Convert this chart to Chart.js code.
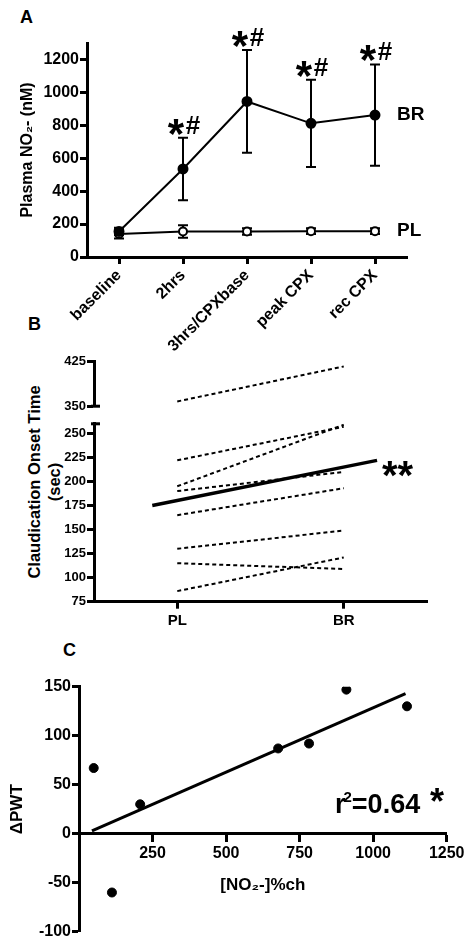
<!DOCTYPE html>
<html>
<head>
<meta charset="utf-8">
<script src="https://cdn.jsdelivr.net/npm/chart.js@4.4.0/dist/chart.umd.min.js"></script>
<style>
body { margin: 0; background: #fff; width: 474px; height: 946px; position: relative; overflow: hidden;
       font-family: 'Liberation Sans', Arial, sans-serif; }
canvas { position: absolute; left: 0; }
.letra { position: absolute; font-weight: bold; font-size: 18px; line-height: 1; }
#tituloB { position: absolute; left: -81.5px; top: 462px; width: 250px; height: 40px; line-height: 20px;
           font-size: 16.5px; font-weight: bold; text-align: center; transform: rotate(-90deg); }
</style>
</head>
<body>
<div class="letra" style="left:20px;top:8px">A</div>
<div class="letra" style="left:28px;top:315px">B</div>
<div class="letra" style="left:63px;top:641px">C</div>
<div id="tituloB">Claudication Onset Time<br>(sec)</div>
<canvas id="chartA" width="474" height="370" style="top:0"></canvas>
<canvas id="chartB1" width="474" height="115" style="top:300px"></canvas>
<canvas id="chartB2" width="474" height="225" style="top:415px"></canvas>
<canvas id="chartC" width="474" height="306" style="top:640px"></canvas>
<script>
// ---- Painel A: nitrito plasmático ao longo do tempo
const tempos = ['baseline', '2hrs', '3hrs/CPXbase', 'peak CPX', 'rec CPX'];
const brMedia = [155, 535, 945, 812, 862];
const brErro = [22, 190, 312, 265, 308];
const plMedia = [140, 155, 155, 157, 157];
const plErro = [28, 38, 20, 18, 18];
const marcasSig = ['', '*#', '*#', '*#', '*#'];
const ticksA = [0, 200, 400, 600, 800, 1000, 1200];

// ---- Painel B: tempo até claudicação, PL vs BR por sujeito
const grupos = ['PL', 'BR'];
const sujeitoPL = [358, 222, 195, 190, 165, 130, 115, 86];
const sujeitoBR = [417, 257, 259, 210, 193, 149, 109, 121];
const mediaX = [-0.15, 1.2];
const mediaY = [175, 222];
const ticksB1 = [350, 425];
const ticksB2 = [75, 100, 125, 150, 175, 200, 225, 250];

// ---- Painel C: correlação
const no2Mudanca = [50, 112, 208, 677, 782, 909, 1115];
const pwtMudanca = [67, -60, 30, 87, 92, 147, 130];
const ajusteX = [44, 1110];
const ajusteY = [3, 143];
const ticksCx = [250, 500, 750, 1000, 1250];
const ticksCy = [-100, -50, 0, 50, 100, 150];

const fam = "'Liberation Sans', Arial, sans-serif";
Chart.defaults.font.family = fam;
Chart.defaults.font.weight = 'bold';
Chart.defaults.color = '#000';
Chart.defaults.animation = false;
Chart.defaults.plugins.legend.display = false;
Chart.defaults.plugins.tooltip.enabled = false;

function eixo(tamanhoFonte) {
    return {
        border: { display: true, width: 3, color: '#000' },
        grid: { drawOnChartArea: false, drawTicks: true, tickLength: 7, tickWidth: 3, color: '#000', tickColor: '#000' },
        ticks: { font: { size: tamanhoFonte, weight: 'bold' }, color: '#000', padding: 1, callback: (v) => String(v) }
    };
}

function fixarTicks(lista) {
    return (s) => { s.ticks = lista.map(v => ({ value: v })); };
}

// barras de erro desenhadas por baixo dos pontos
const barrasErro = {
    id: 'barrasErro',
    beforeDatasetsDraw(chart) {
        const ctx = chart.ctx;
        const y = chart.scales.y;
        chart.data.datasets.forEach((ds, i) => {
            if (!ds.erros) return;
            const meta = chart.getDatasetMeta(i);
            ctx.save();
            ctx.strokeStyle = '#000';
            ctx.lineWidth = 2;
            meta.data.forEach((pt, j) => {
                const topo = y.getPixelForValue(ds.data[j] + ds.erros[j]);
                const base = y.getPixelForValue(ds.data[j] - ds.erros[j]);
                ctx.beginPath();
                ctx.moveTo(pt.x, topo); ctx.lineTo(pt.x, base);
                ctx.moveTo(pt.x - 5, topo); ctx.lineTo(pt.x + 5, topo);
                ctx.moveTo(pt.x - 5, base); ctx.lineTo(pt.x + 5, base);
                ctx.stroke();
            });
            ctx.restore();
        });
    }
};

const textosA = {
    id: 'textosA',
    afterDatasetsDraw(chart) {
        const ctx = chart.ctx;
        const y = chart.scales.y;
        const br = chart.data.datasets[0];
        const brMeta = chart.getDatasetMeta(0);
        ctx.save();
        ctx.fillStyle = '#000';
        marcasSig.forEach((m, j) => {
            if (!m) return;
            const pt = brMeta.data[j];
            const topo = y.getPixelForValue(br.data[j] + br.erros[j]);
            ctx.textAlign = 'center';
            ctx.textBaseline = 'alphabetic';
            ctx.font = 'bold 42px ' + fam;
            ctx.fillText(m[0], pt.x - 7, topo + 10);
            ctx.font = 'bold 26px ' + fam;
            ctx.fillText(m[1], pt.x + 10, topo - 4);
        });
        chart.data.datasets.forEach((ds, i) => {
            const meta = chart.getDatasetMeta(i);
            const ultimo = meta.data[meta.data.length - 1];
            ctx.font = 'bold 19px ' + fam;
            ctx.textAlign = 'left';
            ctx.textBaseline = 'middle';
            ctx.fillText(ds.label, ultimo.x + 22, ultimo.y);
        });
        ctx.restore();
    }
};

const eixoXA = eixo(16);
eixoXA.type = 'category';
eixoXA.offset = true;
eixoXA.grid.offset = false;
eixoXA.ticks.callback = function (v) { return this.getLabelForValue(v); };
eixoXA.ticks.minRotation = 45;
eixoXA.ticks.maxRotation = 45;
eixoXA.ticks.autoSkip = false;
eixoXA.ticks.padding = 2;
eixoXA.afterFit = (s) => { s.height = 113; };

const eixoYA = eixo(16);
eixoYA.min = 0;
eixoYA.max = 1300;
eixoYA.afterBuildTicks = fixarTicks(ticksA);
eixoYA.afterFit = (s) => { s.width = 87; };
eixoYA.title = { display: true, text: 'Plasma NO\u2082- (nM)', font: { size: 16, weight: 'bold' }, color: '#000', padding: { top: 18, bottom: 0 } };

new Chart('chartA', {
    type: 'line',
    data: {
        labels: tempos,
        datasets: [{
            label: 'BR',
            data: brMedia,
            erros: brErro,
            borderColor: '#000',
            borderWidth: 2,
            pointRadius: 4.5,
            pointBackgroundColor: '#000',
            pointBorderColor: '#000'
        }, {
            label: 'PL',
            data: plMedia,
            erros: plErro,
            borderColor: '#000',
            borderWidth: 2,
            pointRadius: 4,
            pointBorderWidth: 2,
            pointBackgroundColor: '#fff',
            pointBorderColor: '#000'
        }]
    },
    options: {
        responsive: false,
        devicePixelRatio: 1,
        layout: { padding: { top: 43, right: 67, left: 0, bottom: 0 } },
        scales: { x: eixoXA, y: eixoYA }
    },
    plugins: [barrasErro, textosA]
});

// ---- Painel B: dois gráficos para o eixo quebrado
function linhasSujeitos(filtro) {
    const ds = [];
    for (let i = 0; i < sujeitoPL.length; i++) {
        if (!filtro(sujeitoPL[i])) continue;
        ds.push({
            data: [{ x: 0, y: sujeitoPL[i] }, { x: 1, y: sujeitoBR[i] }],
            borderColor: '#000',
            borderWidth: 2,
            borderDash: [4, 3],
            pointRadius: 0
        });
    }
    return ds;
}

function quebra(valor) {
    return {
        id: 'quebra' + valor,
        afterDraw(chart) {
            const ctx = chart.ctx;
            const y = chart.scales.y.getPixelForValue(valor);
            const x = chart.chartArea.left;
            ctx.save();
            ctx.strokeStyle = '#000';
            ctx.lineWidth = 3;
            ctx.beginPath();
            ctx.moveTo(x - 3, y);
            ctx.lineTo(x + 6, y);
            ctx.stroke();
            ctx.restore();
        }
    };
}

const eixoXB1 = { type: 'linear', min: -0.5, max: 1.5, display: false };
const eixoYB1 = eixo(13);
eixoYB1.min = 350;
eixoYB1.max = 425;
eixoYB1.afterBuildTicks = fixarTicks(ticksB1);
eixoYB1.afterFit = (s) => { s.width = 94; };

new Chart('chartB1', {
    type: 'line',
    data: { datasets: linhasSujeitos(v => v >= 300) },
    options: {
        responsive: false,
        devicePixelRatio: 1,
        layout: { padding: { top: 61.7, right: 47, left: 0, bottom: 8.3 } },
        scales: { x: eixoXB1, y: eixoYB1 }
    },
    plugins: [quebra(350)]
});

const asteriscosB = {
    id: 'asteriscosB',
    afterDatasetsDraw(chart) {
        const meta = chart.getDatasetMeta(chart.data.datasets.length - 1);
        const fim = meta.data[meta.data.length - 1];
        const ctx = chart.ctx;
        ctx.save();
        ctx.fillStyle = '#000';
        ctx.font = 'bold 40px ' + fam;
        ctx.textAlign = 'left';
        ctx.textBaseline = 'alphabetic';
        ctx.fillText('**', fim.x + 5, fim.y + 29);
        ctx.restore();
    }
};

const eixoXB2 = eixo(15);
eixoXB2.type = 'linear';
eixoXB2.min = -0.5;
eixoXB2.max = 1.5;
eixoXB2.ticks.padding = 3;
eixoXB2.ticks.callback = (v) => grupos[v];
eixoXB2.afterBuildTicks = (s) => { s.ticks = [{ value: 0 }, { value: 1 }]; };
eixoXB2.afterFit = (s) => { s.height = 38.3; };

const eixoYB2 = eixo(13);
eixoYB2.min = 75;
eixoYB2.max = 260;
eixoYB2.afterBuildTicks = fixarTicks(ticksB2);
eixoYB2.afterFit = (s) => { s.width = 94; };

const dsB2 = linhasSujeitos(v => v < 300);
dsB2.push({
    data: mediaX.map((x, i) => ({ x: x, y: mediaY[i] })),
    borderColor: '#000',
    borderWidth: 3.5,
    pointRadius: 0
});

new Chart('chartB2', {
    type: 'line',
    data: { datasets: dsB2 },
    options: {
        responsive: false,
        devicePixelRatio: 1,
        layout: { padding: { top: 6.7, right: 47, left: 0, bottom: 0 } },
        scales: { x: eixoXB2, y: eixoYB2 }
    },
    plugins: [quebra(260), asteriscosB]
});

// ---- Painel C
const textoR2 = {
    id: 'textoR2',
    afterDraw(chart) {
        const ctx = chart.ctx;
        const a = chart.chartArea;
        const x = a.left + 256;
        const y = a.top + 126.5;
        ctx.save();
        ctx.fillStyle = '#000';
        ctx.textAlign = 'left';
        ctx.textBaseline = 'alphabetic';
        ctx.font = 'bold 27px ' + fam;
        ctx.fillText('r', x, y);
        const wr = ctx.measureText('r').width;
        ctx.font = 'bold 15px ' + fam;
        ctx.fillText('2', x + wr - 2, y - 11);
        const w2 = ctx.measureText('2').width;
        ctx.font = 'bold 27px ' + fam;
        ctx.fillText('=0.64', x + wr - 2 + w2, y);
        ctx.font = 'bold 36px ' + fam;
        ctx.fillText('*', x + 95, y + 1);
        ctx.restore();
    }
};

const eixoXC = eixo(16);
eixoXC.type = 'linear';
eixoXC.min = 0;
eixoXC.max = 1250;
eixoXC.position = { y: 0 };
eixoXC.ticks.padding = 3;
eixoXC.afterBuildTicks = fixarTicks(ticksCx);
eixoXC.title = { display: true, text: '[NO\u2082-]%ch', font: { size: 17, weight: 'bold' }, color: '#000', padding: { top: 9, bottom: 0 } };

const eixoYC = eixo(16);
eixoYC.min = -100;
eixoYC.max = 150;
eixoYC.afterBuildTicks = fixarTicks(ticksCy);
eixoYC.afterFit = (s) => { s.width = 79; };
eixoYC.title = { display: true, text: '\u0394PWT', font: { size: 17, weight: 'bold' }, color: '#000', padding: { top: 7, bottom: 0 } };

new Chart('chartC', {
    type: 'scatter',
    data: {
        datasets: [{
            data: no2Mudanca.map((x, i) => ({ x: x, y: pwtMudanca[i] })),
            pointRadius: 4.5,
            pointBackgroundColor: '#000',
            pointBorderColor: '#000'
        }, {
            type: 'line',
            data: ajusteX.map((x, i) => ({ x: x, y: ajusteY[i] })),
            borderColor: '#000',
            borderWidth: 3,
            pointRadius: 0
        }]
    },
    options: {
        responsive: false,
        devicePixelRatio: 1,
        layout: { padding: { top: 46.7, right: 27.3, left: 0, bottom: 14.3 } },
        scales: { x: eixoXC, y: eixoYC }
    },
    plugins: [textoR2]
});
</script>
</body>
</html>
